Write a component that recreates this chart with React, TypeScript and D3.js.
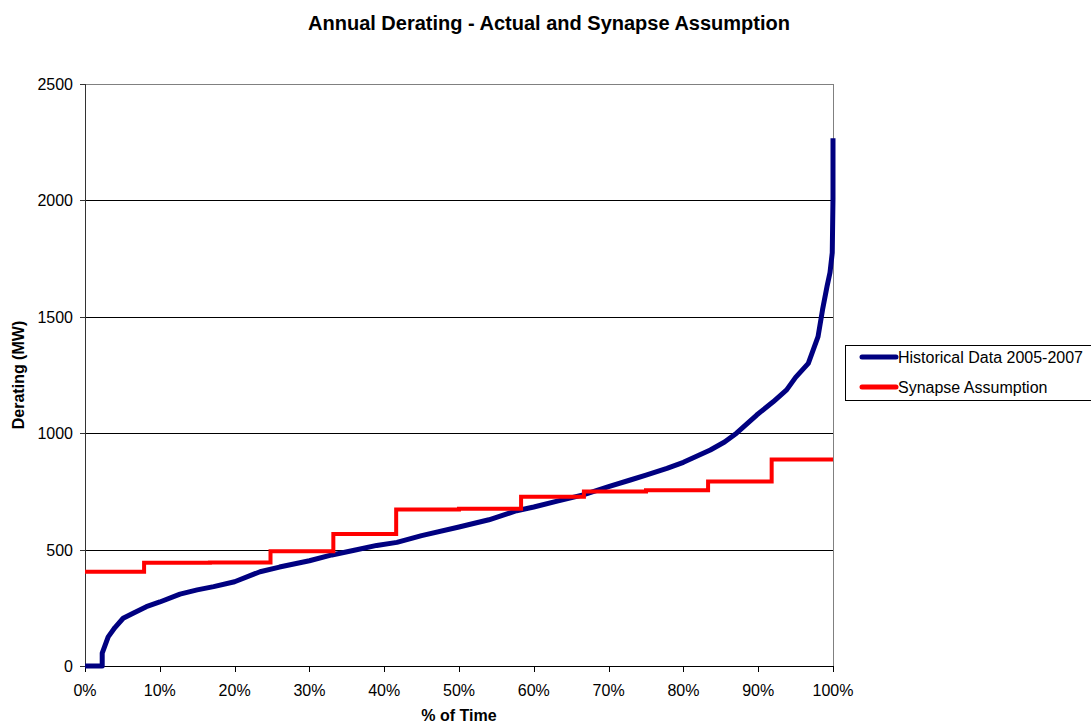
import React from "react";
import * as d3 from "d3";

// Historical derating duration curve (2005-2007): % of time vs MW
const histPct = [0, 2.3, 2.3, 3.1, 4.0, 5.1, 6.5, 8.2, 10, 12.7, 15, 17.2, 20, 23.4, 26, 30, 33, 36, 39, 41.7, 45, 50, 54, 57.7, 60, 63, 66.6, 70, 72.9, 75, 77.8, 80, 83.6, 85.5, 87.1, 89.8, 92, 93.8, 95, 96.7, 98.0, 98.6, 99.2, 99.6, 99.9, 100, 100];
const histMW = [0, 0, 55, 125, 165, 205, 228, 255, 275, 309, 327, 341, 362, 405, 425, 452, 477, 497, 518, 531, 560, 597, 628, 667, 683, 707, 735, 770, 799, 820, 849, 875, 928, 962, 1000, 1078, 1135, 1186, 1240, 1300, 1415, 1530, 1630, 1690, 1775, 2010, 2267];

// Synapse assumption: stepped levels starting at each breakpoint
const synPct = [0, 7.9, 16.7, 24.8, 33.2, 41.6, 50, 58.3, 66.7, 75, 83.3, 91.8, 100];
const synMW = [405, 443, 445, 493, 567, 672, 675, 727, 750, 755, 792, 887, 887];

const yTicks = [0, 500, 1000, 1500, 2000, 2500];
const xTicks = [0, 10, 20, 30, 40, 50, 60, 70, 80, 90, 100];

const seriesNames = ["Historical Data 2005-2007", "Synapse Assumption"];
const seriesColors = ["#000080", "#FF0000"];

const W = 1091;
const H = 723;
const left = 85;
const right = 833;
const top = 84;
const bottom = 666;
const FONT = "Liberation Sans, Arial, sans-serif";

export default function App() {
  const x = d3.scaleLinear().domain([0, 100]).range([left, right]);
  const y = d3.scaleLinear().domain([0, 2500]).range([bottom, top]);

  const hist = histPct.map((p, i) => [p, histMW[i]] as [number, number]);
  const syn = synPct.map((p, i) => [p, synMW[i]] as [number, number]);

  const linear = d3
    .line<[number, number]>()
    .x((d) => x(d[0]))
    .y((d) => y(d[1]));
  const stepped = d3
    .line<[number, number]>()
    .x((d) => x(d[0]))
    .y((d) => y(d[1]))
    .curve(d3.curveStepAfter);

  return (
    <svg
      width={W}
      height={H}
      style={{ position: "absolute", left: 0, top: 0, background: "#fff" }}
      fontFamily={FONT}
    >
      <rect x={0} y={0} width={W} height={H} fill="#fff" />
      <text
        x={549}
        y={30}
        textAnchor="middle"
        fontSize={20}
        fontWeight="bold"
        fill="#000"
      >
        Annual Derating - Actual and Synapse Assumption
      </text>

      {/* gridlines */}
      {yTicks.slice(1).map((t) => (
        <line key={"g" + t} x1={left} x2={right} y1={Math.round(y(t)) + 0.5} y2={Math.round(y(t)) + 0.5} stroke={t === 2500 ? "#808080" : "#000"} strokeWidth={1} />
      ))}
      {/* plot border right */}
      <line x1={right + 0.5} x2={right + 0.5} y1={top} y2={bottom} stroke="#808080" strokeWidth={1} />

      {/* y axis */}
      <line x1={left + 0.5} x2={left + 0.5} y1={top} y2={bottom + 5} stroke="#333" strokeWidth={1} />
      {yTicks.map((t) => (
        <g key={"y" + t}>
          <line x1={left - 5} x2={left} y1={Math.round(y(t)) + 0.5} y2={Math.round(y(t)) + 0.5} stroke="#333" />
          <text x={73} y={y(t) + 6} textAnchor="end" fontSize={16} fill="#000">
            {t}
          </text>
        </g>
      ))}

      {/* x axis */}
      <line x1={left} x2={right} y1={bottom + 0.5} y2={bottom + 0.5} stroke="#000" strokeWidth={1} />
      {xTicks.map((t) => (
        <g key={"x" + t}>
          <line x1={Math.round(x(t)) + 0.5} x2={Math.round(x(t)) + 0.5} y1={bottom} y2={bottom + 6} stroke="#000" />
          <text x={x(t)} y={696} textAnchor="middle" fontSize={16} fill="#000">
            {t + "%"}
          </text>
        </g>
      ))}

      <text x={459} y={721} textAnchor="middle" fontSize={16} fontWeight="bold" fill="#000">
        % of Time
      </text>
      <text
        transform={`translate(24, ${(top + bottom) / 2}) rotate(-90)`}
        textAnchor="middle"
        fontSize={16}
        fontWeight="bold"
        fill="#000"
      >
        Derating (MW)
      </text>

      {/* series */}
      <path d={linear(hist) || ""} fill="none" stroke={seriesColors[0]} strokeWidth={5} strokeLinejoin="round" />
      <path d={stepped(syn) || ""} fill="none" stroke={seriesColors[1]} strokeWidth={4} strokeLinejoin="miter" />

      {/* legend */}
      <rect x={845.5} y={345.5} width={260} height={55} fill="#fff" stroke="#000" strokeWidth={1} />
      {seriesNames.map((name, i) => (
        <g key={name}>
          <line x1={862} x2={896} y1={357 + i * 30} y2={357 + i * 30} stroke={seriesColors[i]} strokeWidth={5} strokeLinecap="round" />
          <text x={898} y={363 + i * 30} fontSize={16} fill="#000">
            {name}
          </text>
        </g>
      ))}
    </svg>
  );
}
